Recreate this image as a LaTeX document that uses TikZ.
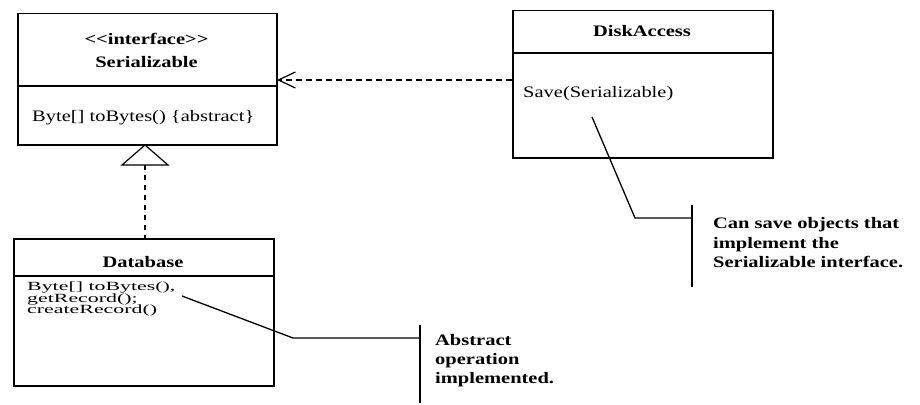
\documentclass[tikz,border=0pt]{standalone}
\usepackage{fontspec}
\setmainfont{Liberation Serif}
\newfontfamily\widef[FakeStretch=1.28]{Liberation Serif}
\newfontfamily\dbf[FakeStretch=1.75]{Liberation Serif}
\usetikzlibrary{arrows.meta}
\begin{document}
\begin{tikzpicture}[x=1pt,y=-1pt,
  box/.style={draw,line width=1.5pt,inner sep=0pt,anchor=north west},
  divider/.style={line width=1.4pt},
  txt/.style={inner sep=0pt,font=\widef\fontsize{16}{20}\selectfont},
  ttl/.style={txt,anchor=base,font=\widef\bfseries\fontsize{16}{20}\selectfont},
  lft/.style={txt,anchor=base west},
  dbtxt/.style={inner sep=0pt,anchor=base west,font=\dbf\fontsize{12.5}{12}\selectfont},
  notetxt/.style={inner sep=0pt,anchor=base west,font=\widef\bfseries\fontsize{16}{20}\selectfont},
  noteline/.style={line width=1.3pt},
  dep/.style={line width=1.2pt,dash pattern=on 6pt off 4pt},
]
\useasboundingbox (0,0) rectangle (920,404);

% Serializable
\node[box,minimum width=259pt,minimum height=131pt] (ser) at (17,13) {};
\coordinate (sdiv) at (0,86);
\draw[divider] (ser.west |- sdiv) -- (ser.east |- sdiv);
\node[ttl] (sst) at (146.5,45) {<<interface>>};
\node[ttl] (ssn) at (146.5,67) {Serializable};
\node[lft] (ssm) at (32,121) {Byte[] toBytes() \{abstract\}};

% DiskAccess
\node[box,minimum width=260pt,minimum height=147pt] (dsk) at (512,10) {};
\coordinate (ddiv) at (0,53);
\draw[divider] (dsk.west |- ddiv) -- (dsk.east |- ddiv);
\node[ttl] (dsn) at (642,37) {DiskAccess};
\node[lft] (dsm) at (523,97) {Save(Serializable)};

% Database
\node[box,minimum width=260pt,minimum height=147pt] (db) at (13,238) {};
\coordinate (bdiv) at (0,276);
\draw[divider] (db.west |- bdiv) -- (db.east |- bdiv);
\node[ttl] (dbn) at (143,267) {Database};
\node[dbtxt] (dbm1) at (27,290) {Byte[] toBytes(),};
\node[dbtxt] (dbm2) at (27,302) {getRecord();};
\node[dbtxt] (dbm3) at (27,313) {createRecord()};

% dependency DiskAccess -> Serializable
\coordinate (depS) at (512,80);
\coordinate (depE) at (277,80);
\draw[dep,-{Straight Barb[length=17pt,width=16pt,line width=1.2pt]}] (depS) -- (depE);

% realization Database -> Serializable
\coordinate (triA) at (145,145);
\coordinate (triB) at (145,165);
\draw[line width=1.2pt] (triA) -- (168,165) -- (122,165) -- cycle;
\draw[line width=1.4pt,dash pattern=on 5pt off 5pt] (triB) -- (triB |- db.north);

% note 1
\coordinate (n1a) at (592,117);
\coordinate (n1b) at (635,218);
\coordinate (n1c) at (692,218);
\coordinate (n1t) at (692,205);
\coordinate (n1d) at (692,287);
\draw[noteline] (n1a) -- (n1b) -- (n1c);
\draw[noteline] (n1t) -- (n1d);
\node[notetxt] (n1l1) at (713,228) {Can save objects that};
\node[notetxt] (n1l2) at (713,248) {implement the};
\node[notetxt] (n1l3) at (713,267) {Serializable interface.};

% note 2
\coordinate (n2a) at (182,296);
\coordinate (n2b) at (293,338);
\coordinate (n2c) at (420,338);
\coordinate (n2t) at (420,325);
\coordinate (n2d) at (420,403);
\draw[noteline] (n2a) -- (n2b) -- (n2c);
\draw[noteline] (n2t) -- (n2d);
\node[notetxt] (n2l1) at (435,345) {Abstract};
\node[notetxt] (n2l2) at (435,364) {operation};
\node[notetxt] (n2l3) at (435,383) {implemented.};
\end{tikzpicture}
\end{document}
